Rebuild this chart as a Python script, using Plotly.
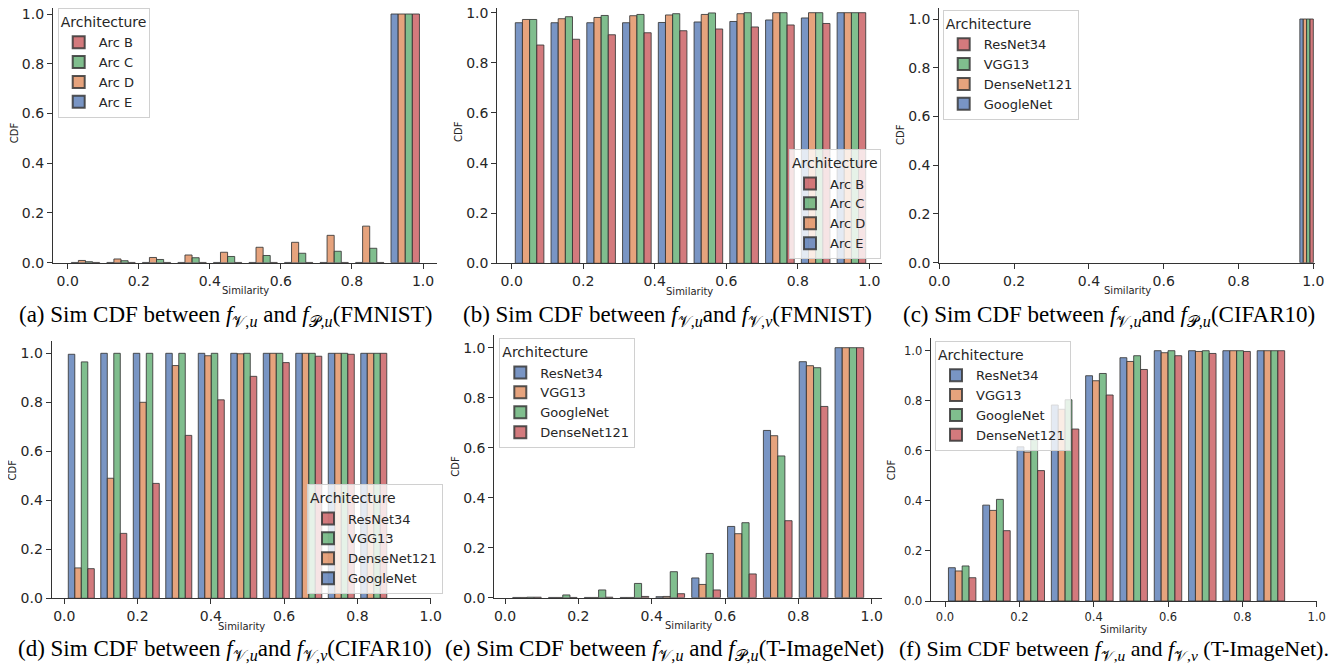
import plotly.graph_objects as go

# page body has an 8px margin: the figure is drawn 8px right/down of the window corner
OFF = 8
W, H = 1337 - OFF, 665 - OFF

# ---------------- data ----------------
# (a) FMNIST f_V,u vs f_P,u
a_names = ["Arc E", "Arc D", "Arc C", "Arc B"]
a_arc_e = [0.001, 0.001, 0.001, 0.001, 0.001, 0.001, 0.001, 0.001, 0.001, 1.0]
a_arc_d = [0.009, 0.015, 0.021, 0.031, 0.042, 0.062, 0.082, 0.110, 0.147, 1.0]
a_arc_c = [0.004, 0.008, 0.013, 0.020, 0.025, 0.029, 0.038, 0.046, 0.058, 1.0]
a_arc_b = [0.001, 0.001, 0.001, 0.001, 0.001, 0.001, 0.001, 0.001, 0.001, 1.0]

# (b) FMNIST f_V,u vs f_V,v
b_names = ["Arc E", "Arc D", "Arc C", "Arc B"]
b_arc_e = [0.960, 0.960, 0.960, 0.960, 0.961, 0.963, 0.965, 0.971, 0.979, 1.0]
b_arc_d = [0.973, 0.976, 0.981, 0.988, 0.991, 0.993, 0.996, 1.0, 1.0, 1.0]
b_arc_c = [0.973, 0.984, 0.989, 0.993, 0.996, 0.999, 1.0, 1.0, 1.0, 1.0]
b_arc_b = [0.871, 0.894, 0.912, 0.920, 0.928, 0.935, 0.943, 0.951, 0.957, 1.0]

# (c) CIFAR10 f_V,u vs f_P,u (single bin)
c_names = ["GoogleNet", "DenseNet121", "VGG13", "ResNet34"]
c_googlenet = [1.0]
c_densenet121 = [1.0]
c_vgg13 = [1.0]
c_resnet34 = [1.0]

# (d) CIFAR10 f_V,u vs f_V,v
d_names = ["GoogleNet", "DenseNet121", "VGG13", "ResNet34"]
d_googlenet = [0.996, 1.0, 1.0, 1.0, 1.0, 1.0, 1.0, 1.0, 1.0, 1.0]
d_densenet121 = [0.124, 0.490, 0.800, 0.950, 0.990, 0.998, 1.0, 1.0, 1.0, 1.0]
d_vgg13 = [0.965, 1.0, 1.0, 1.0, 1.0, 1.0, 1.0, 1.0, 1.0, 1.0]
d_resnet34 = [0.121, 0.265, 0.469, 0.665, 0.810, 0.906, 0.962, 0.988, 0.996, 1.0]

# (e) T-ImageNet f_V,u vs f_P,u
e_names = ["ResNet34", "VGG13", "GoogleNet", "DenseNet121"]
e_resnet34 = [0.001, 0.001, 0.001, 0.001, 0.004, 0.079, 0.285, 0.669, 0.944, 1.0]
e_vgg13 = [0.001, 0.001, 0.001, 0.001, 0.005, 0.053, 0.256, 0.648, 0.928, 1.0]
e_googlenet = [0.002, 0.011, 0.031, 0.057, 0.104, 0.177, 0.300, 0.567, 0.920, 1.0]
e_densenet121 = [0.002, 0.001, 0.002, 0.005, 0.016, 0.031, 0.095, 0.308, 0.765, 1.0]

# (f) T-ImageNet f_V,u vs f_V,v
f_names = ["ResNet34", "VGG13", "GoogleNet", "DenseNet121"]
f_resnet34 = [0.133, 0.383, 0.616, 0.783, 0.900, 0.972, 1.0, 1.0, 1.0, 1.0]
f_vgg13 = [0.120, 0.362, 0.595, 0.766, 0.880, 0.957, 0.992, 0.997, 1.0, 1.0]
f_googlenet = [0.140, 0.406, 0.644, 0.804, 0.909, 0.980, 1.0, 1.0, 1.0, 1.0]
f_densenet121 = [0.093, 0.281, 0.521, 0.687, 0.823, 0.925, 0.980, 0.989, 0.997, 1.0]

tick_vals = [0.0, 0.2, 0.4, 0.6, 0.8, 1.0]
tick_text = ["0.0", "0.2", "0.4", "0.6", "0.8", "1.0"]

captions = [
    "(a) Sim CDF between <i>f</i><sub>𝒱,<i>u</i></sub> and <i>f</i><sub>𝒫,<i>u</i></sub>(FMNIST)",
    "(b) Sim CDF between <i>f</i><sub>𝒱,<i>u</i></sub>and <i>f</i><sub>𝒱,<i>v</i></sub>(FMNIST)",
    "(c) Sim CDF between <i>f</i><sub>𝒱,<i>u</i></sub>and <i>f</i><sub>𝒫,<i>u</i></sub>(CIFAR10)",
    "(d) Sim CDF between <i>f</i><sub>𝒱,<i>u</i></sub>and <i>f</i><sub>𝒱,<i>v</i></sub>(CIFAR10)",
    "(e) Sim CDF between <i>f</i><sub>𝒱,<i>u</i></sub> and <i>f</i><sub>𝒫,<i>u</i></sub>(T-ImageNet)",
    "(f) Sim CDF between <i>f</i><sub>𝒱,<i>u</i></sub> and <i>f</i><sub>𝒱,<i>v</i></sub> (T-ImageNet).",
]

# ---------------- style ----------------
BLUE = "rgba(76,114,176,0.75)"
ORANGE = "rgba(221,132,82,0.75)"
GREEN = "rgba(85,168,104,0.75)"
RED = "rgba(196,78,82,0.75)"
EDGE = "rgba(55,55,55,0.85)"
AX = "#333333"


def px(x):
    return (x - OFF) / W


def py(y):
    return 1 - (y - OFF) / H


# window-pixel geometry: left, right, bottom(y=0), y-per-unit, x range, bins, legend anchor
panels = [
    dict(l=53, r=437, b=262.7, s=248.7, xr=[-0.0414, 1.0394], bs=0.0, bw=0.1, tf=14,
         names=a_names, series=[a_arc_e, a_arc_d, a_arc_c, a_arc_b],
         colors=[BLUE, ORANGE, GREEN, RED], order="reversed", leg=(57.7, 5, "top")),
    dict(l=497.3, r=881.7, b=263.3, s=250.6, xr=[-0.0403, 1.0347], bs=0.0, bw=0.1, tf=14,
         names=b_names, series=[b_arc_e, b_arc_d, b_arc_c, b_arc_b],
         colors=[BLUE, ORANGE, GREEN, RED], order="reversed", leg=(789, 259.3, "bottom")),
    dict(l=939.3, r=1315, b=262.7, s=243.7, xr=[0.0, 1.0045], bs=0.9595, bw=0.045, tf=14,
         names=c_names, series=[c_googlenet, c_densenet121, c_vgg13, c_resnet34],
         colors=[BLUE, ORANGE, GREEN, RED], order="reversed", leg=(942.7, 10, "top")),
    dict(l=51.7, r=430.7, b=598.3, s=245.0, xr=[-0.0344, 1.0], bs=0.002, bw=0.0887, tf=14,
         names=d_names, series=[d_googlenet, d_densenet121, d_vgg13, d_resnet34],
         colors=[BLUE, ORANGE, GREEN, RED], order="reversed", leg=(307, 594.3, "bottom")),
    dict(l=494.3, r=881.7, b=597.7, s=250.0, xr=[-0.0292, 1.0273], bs=0.011, bw=0.0977, tf=14,
         names=e_names, series=[e_resnet34, e_vgg13, e_googlenet, e_densenet121],
         colors=[BLUE, ORANGE, GREEN, RED], order="normal", leg=(499.3, 338.3, "top")),
    dict(l=930.7, r=1316.7, b=601.0, s=250.3, xr=[-0.0385, 1.0], bs=0.0, bw=0.0923, tf=11.5,
         names=f_names, series=[f_resnet34, f_vgg13, f_googlenet, f_densenet121],
         colors=[BLUE, ORANGE, GREEN, RED], order="normal", leg=(935, 341, "top")),
]
caption_pos = [(225, 316), (667, 316), (1109, 316), (225, 650), (664, 650), (1114, 650)]
caption_size = [23, 23, 23, 23, 23, 22]

fig = go.Figure()
layout = dict(width=W, height=H, margin=dict(l=0, r=0, t=0, b=0, autoexpand=False),
              paper_bgcolor="white", plot_bgcolor="white", barmode="overlay",
              showlegend=True, font=dict(family="DejaVu Sans", color="#262626"))
annotations = []

for i, p in enumerate(panels):
    k = i + 1
    xa = "x" if k == 1 else f"x{k}"
    ya = "y" if k == 1 else f"y{k}"
    leg = "legend" if k == 1 else f"legend{k}"
    bar_w = p["bw"] * 0.2
    for j, (name, vals, col) in enumerate(zip(p["names"], p["series"], p["colors"])):
        xs = [p["bs"] + g * p["bw"] + p["bw"] * 0.1 + (j + 0.5) * bar_w for g in range(len(vals))]
        fig.add_trace(go.Bar(x=xs, y=vals, width=bar_w, name=name,
                             marker=dict(color=col, line=dict(color=EDGE, width=1)),
                             xaxis=xa, yaxis=ya, legend=leg, showlegend=True,
                             hoverinfo="skip", cliponaxis=False))
    top_px = max(p["b"] - 1.05 * p["s"], OFF)
    y_top = (p["b"] - top_px) / p["s"]
    axis_common = dict(showline=True, linecolor=AX, linewidth=1.2, ticks="outside",
                       ticklen=5, tickwidth=1.1, tickcolor=AX, showgrid=False,
                       zeroline=False, tickvals=tick_vals, ticktext=tick_text,
                       automargin=False, ticklabeloverflow="allow",
                       tickfont=dict(size=p["tf"], color="#262626", family="DejaVu Sans"))
    layout["xaxis" if k == 1 else f"xaxis{k}"] = dict(
        domain=[px(p["l"]), px(p["r"])], range=p["xr"], anchor=ya, **axis_common)
    layout["yaxis" if k == 1 else f"yaxis{k}"] = dict(
        domain=[py(p["b"]), py(top_px)], range=[0, y_top], anchor=xa, **axis_common)
    lx, ly, anc = p["leg"]
    layout[leg] = dict(x=px(lx), y=py(max(ly, OFF)), xanchor="left", yanchor=anc,
                       xref="paper", yref="paper",
                       bgcolor="rgba(255,255,255,0.8)", bordercolor="#d0d0d0", borderwidth=1,
                       traceorder=p["order"], tracegroupgap=0, itemwidth=30,
                       title=dict(text="Architecture", side="top",
                                  font=dict(size=14, family="DejaVu Sans", color="#262626")),
                       font=dict(size=13, family="DejaVu Sans", color="#262626"),
                       itemsizing="constant")
    annotations.append(dict(text="Similarity", xref="paper", yref="paper",
                            x=px((p["l"] + p["r"]) / 2), y=py(p["b"] + 28),
                            showarrow=False, font=dict(size=10, color="#262626"),
                            xanchor="center", yanchor="middle"))
    annotations.append(dict(text="CDF", xref="paper", yref="paper", textangle=-90,
                            x=px(p["l"] - 39), y=py(p["b"] - 0.525 * p["s"]),
                            showarrow=False, font=dict(size=10, color="#262626"),
                            xanchor="center", yanchor="middle"))

for cap, (cx, cy), fs in zip(captions, caption_pos, caption_size):
    annotations.append(dict(text=cap, xref="paper", yref="paper", x=px(cx), y=py(cy),
                            showarrow=False, xanchor="center", yanchor="middle",
                            font=dict(size=fs, family="Liberation Serif", color="black")))

layout["annotations"] = annotations
fig.update_layout(**layout)
fig.write_html("out.html")
